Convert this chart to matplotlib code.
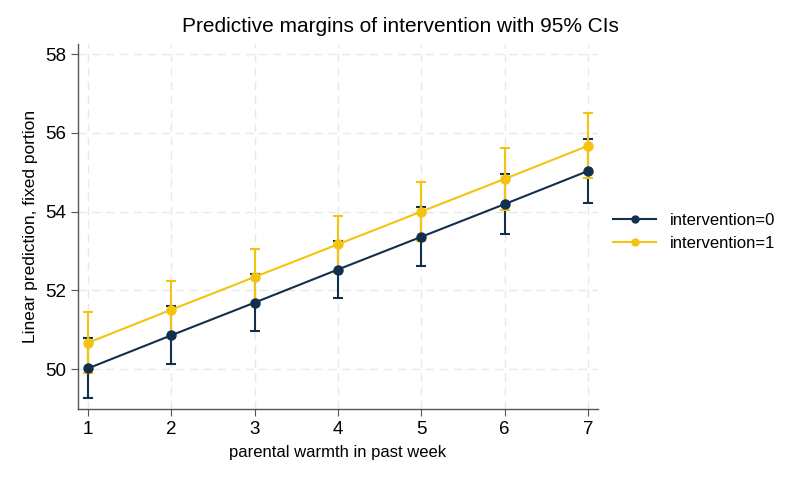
import matplotlib
matplotlib.use("Agg")
import matplotlib.pyplot as plt
from matplotlib.lines import Line2D

plt.rcParams['font.family'] = ['Liberation Sans', 'DejaVu Sans']

# parental warmth levels
warmth = [1, 2, 3, 4, 5, 6, 7]

# intervention=0
m0 = [50.02, 50.86, 51.69, 52.53, 53.36, 54.19, 55.03]
lo0 = [49.26, 50.12, 50.97, 51.81, 52.61, 53.43, 54.21]
hi0 = [50.78, 51.61, 52.41, 53.25, 54.11, 54.95, 55.85]

# intervention=1
m1 = [50.67, 51.51, 52.34, 53.17, 54.00, 54.83, 55.67]
lo1 = [49.90, 50.79, 51.63, 52.45, 53.25, 54.05, 54.84]
hi1 = [51.45, 52.25, 53.05, 53.89, 54.74, 55.61, 56.49]

yticks = [50, 52, 54, 56, 58]

navy = "#12304d"
gold = "#f2c40f"

fig = plt.figure(figsize=(8, 4.8), dpi=100)
ax = fig.add_axes([0.0975, 0.148, 0.65, 0.76])

handles = []
for m, lo, hi, col, lab in [(m0, lo0, hi0, navy, "intervention=0"),
                            (m1, lo1, hi1, gold, "intervention=1")]:
    yerr = [[a - b for a, b in zip(m, lo)], [b - a for a, b in zip(m, hi)]]
    ax.errorbar(warmth, m, yerr=yerr, color=col, marker='o', markersize=6.5,
                linewidth=1.5, elinewidth=1.5, capsize=3.5, capthick=1.5,
                zorder=3)
    handles.append(Line2D([], [], color=col, marker='o', markersize=5,
                          linewidth=1.5, label=lab))

ax.set_xlim(0.88, 7.12)
ax.set_ylim(48.99, 58.25)
ax.set_xticks(warmth)
ax.set_yticks(yticks)
ax.grid(True, color='#e8e8e8', linestyle=(0, (6, 4)), linewidth=1)
ax.set_axisbelow(True)

for s in ['top', 'right']:
    ax.spines[s].set_visible(False)
for s in ['left', 'bottom']:
    ax.spines[s].set_color('#555555')
    ax.spines[s].set_linewidth(1)
ax.tick_params(direction='out', length=5, color='#555555', labelsize=13.5)

ax.set_xlabel("parental warmth in past week", fontsize=12, labelpad=5)
ax.set_ylabel("Linear prediction, fixed portion", fontsize=12.5, labelpad=5)
fig.suptitle("Predictive margins of intervention with 95% CIs", fontsize=15,
             x=0.5, y=0.965)

ax.legend(handles=handles, loc='center left', bbox_to_anchor=(1.0, 0.485),
          frameon=False, fontsize=12, handlelength=2.6, labelspacing=0.5)

fig.savefig("out.png", dpi=100, facecolor='white')
